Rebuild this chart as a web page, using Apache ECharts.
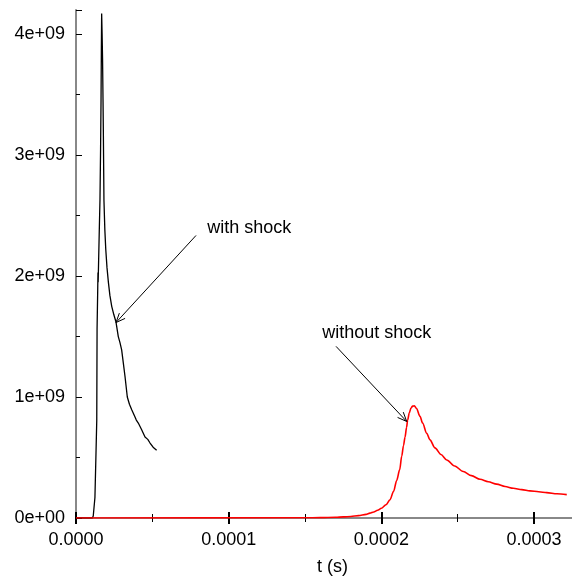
<!DOCTYPE html>
<html>
<head>
<meta charset="utf-8">
<script src="https://cdn.jsdelivr.net/npm/echarts@6/dist/echarts.min.js"></script>
<style>
html,body{margin:0;padding:0;background:#fff;}
#chart{width:572px;height:577px;}
</style>
</head>
<body>
<div id="chart"></div>
<script>
// time values (s) and values
const withShockT = [0, 1.07e-5, 1.13e-5, 1.24e-5, 1.31e-5, 1.36e-5, 1.38e-5, 1.42e-5, 1.43e-5, 1.44e-5, 1.45e-5, 1.46e-5, 1.52e-5, 1.57e-5, 1.61e-5, 1.64e-5, 1.66e-5, 1.68e-5, 1.71e-5, 1.74e-5, 1.77e-5, 1.79e-5, 1.83e-5, 1.89e-5, 1.95e-5, 2.03e-5, 2.12e-5, 2.22e-5, 2.34e-5, 2.48e-5, 2.62e-5, 2.77e-5, 2.88e-5, 2.99e-5, 3.10e-5, 3.21e-5, 3.36e-5, 3.50e-5, 3.65e-5, 3.85e-5, 3.95e-5, 4.08e-5, 4.30e-5, 4.52e-5, 4.70e-5, 4.85e-5, 5.05e-5, 5.28e-5];
const withShockV = [0, 0, 0.017e9, 0.17e9, 0.54e9, 0.81e9, 1.56e9, 1.87e9, 1.96e9, 2.03e9, 1.95e9, 2.0e9, 2.35e9, 2.63e9, 3.05e9, 3.46e9, 3.85e9, 4.17e9, 4.0e9, 3.79e9, 3.45e9, 3.21e9, 2.63e9, 2.38e9, 2.22e9, 2.07e9, 1.95e9, 1.84e9, 1.75e9, 1.68e9, 1.62e9, 1.50e9, 1.45e9, 1.39e9, 1.28e9, 1.17e9, 1.00e9, 0.94e9, 0.895e9, 0.84e9, 0.81e9, 0.785e9, 0.73e9, 0.67e9, 0.65e9, 0.62e9, 0.585e9, 0.56e9];

const withoutShockT = [0, 1.5e-4, 1.6e-4, 1.7e-4, 1.75e-4, 1.8e-4, 1.85e-4, 1.9e-4, 1.925e-4, 1.95e-4, 1.975e-4, 2.0e-4, 2.03e-4, 2.056e-4, 2.08e-4, 2.10e-4, 2.12e-4, 2.133e-4, 2.145e-4, 2.155e-4, 2.165e-4, 2.172e-4, 2.183e-4, 2.194e-4, 2.205e-4, 2.216e-4, 2.23e-4, 2.253e-4, 2.27e-4, 2.297e-4, 2.318e-4, 2.351e-4, 2.39e-4, 2.428e-4, 2.48e-4, 2.536e-4, 2.59e-4, 2.646e-4, 2.70e-4, 2.755e-4, 2.81e-4, 2.864e-4, 2.92e-4, 2.973e-4, 3.03e-4, 3.083e-4, 3.15e-4, 3.214e-4];
const withoutShockV = [0, 0.002e9, 0.003e9, 0.006e9, 0.009e9, 0.012e9, 0.02e9, 0.03e9, 0.04e9, 0.05e9, 0.064e9, 0.08e9, 0.11e9, 0.15e9, 0.22e9, 0.31e9, 0.40e9, 0.51e9, 0.60e9, 0.67e9, 0.75e9, 0.81e9, 0.87e9, 0.91e9, 0.925e9, 0.928e9, 0.905e9, 0.84e9, 0.785e9, 0.70e9, 0.646e9, 0.58e9, 0.525e9, 0.48e9, 0.43e9, 0.384e9, 0.35e9, 0.32e9, 0.30e9, 0.28e9, 0.26e9, 0.246e9, 0.235e9, 0.224e9, 0.217e9, 0.21e9, 0.20e9, 0.193e9];

const xTickStep = 0.0001;
const yTickStep = 1e9;

// annotation anchors in data space
const withShockText = {t: 8.6e-5, v: 2.40e9, label: 'with shock'};
const withShockArrow = [[7.86e-5, 2.336e9], [2.62e-5, 1.616e9]];
const withoutShockText = {t: 1.613e-4, v: 1.533e9, label: 'without shock'};
const withoutShockArrow = [[1.703e-4, 1.419e9], [2.166e-4, 0.798e9]];

function zip(a, b) { return a.map((x, i) => [x, b[i]]); }
function expFmt(v) {
  const parts = v.toExponential(0).split('e');
  const sign = parts[1][0];
  return parts[0] + 'e' + sign + parts[1].slice(1).padStart(2, '0');
}

const font = '"Liberation Sans", Arial, Helvetica, sans-serif';

const chart = echarts.init(document.getElementById('chart'), null, {renderer: 'canvas'});
chart.setOption({
  animation: false,
  backgroundColor: '#fff',
  grid: {left: 76, right: -3, top: 10, bottom: 59, containLabel: false, outerBoundsMode: 'none'},
  xAxis: [{
    type: 'value', min: 0, max: 0.0003268, interval: xTickStep,
    name: 't (s)', nameLocation: 'middle', nameGap: 40,
    nameTextStyle: {fontFamily: font, fontSize: 18, color: '#000', padding: [0, 0, 0, 14]},
    axisLine: {show: true, onZero: false, lineStyle: {color: '#888', width: 2}},
    axisTick: {show: true, inside: true, length: 6, lineStyle: {color: '#000', width: 2}},
    minorTick: {show: true, splitNumber: 2, length: 4, lineStyle: {color: '#000', width: 1}},
    axisLabel: {fontFamily: font, fontSize: 18, color: '#000', margin: 13, showMaxLabel: false,
      formatter: v => v.toFixed(4)},
    splitLine: {show: false}
  }, {
    type: 'value', position: 'top', min: 0, max: 0.0003268, interval: xTickStep,
    axisLine: {show: false},
    axisTick: {show: true, inside: true, length: 6, lineStyle: {color: '#000', width: 2}},
    minorTick: {show: true, splitNumber: 2, length: 4, lineStyle: {color: '#000', width: 1}},
    axisLabel: {show: false},
    splitLine: {show: false}
  }],
  yAxis: {
    type: 'value', min: 0, max: 4.2e9, interval: yTickStep,
    axisLine: {show: true, onZero: false, lineStyle: {color: '#888', width: 2}},
    axisTick: {show: true, inside: true, length: 6, lineStyle: {color: '#000', width: 1}},
    minorTick: {show: true, splitNumber: 2, length: 4, lineStyle: {color: '#000', width: 1}},
    axisLabel: {fontFamily: font, fontSize: 18, color: '#000', margin: 11, showMaxLabel: false,
      formatter: expFmt},
    splitLine: {show: false}
  },
  series: [{
    name: 'with shock', type: 'line', showSymbol: false, symbol: 'none',
    data: zip(withShockT, withShockV),
    lineStyle: {color: '#000', width: 1.3}, z: 2,
    markPoint: {
      silent: true, symbol: 'circle', symbolSize: 0,
      label: {show: true, position: 'right', distance: 0, fontFamily: font, fontSize: 18, color: '#000',
        formatter: p => p.name},
      data: [{name: withShockText.label, coord: [withShockText.t, withShockText.v]}]
    }
  }, {
    name: 'without shock', type: 'line', showSymbol: false, symbol: 'none',
    smooth: 0.3, smoothMonotone: 'x',
    data: zip(withoutShockT, withoutShockV),
    lineStyle: {color: '#ff0000', width: 1.6}, z: 3,
    markPoint: {
      silent: true, symbol: 'circle', symbolSize: 0,
      label: {show: true, position: 'right', distance: 0, fontFamily: font, fontSize: 18, color: '#000',
        formatter: p => p.name},
      data: [{name: withoutShockText.label, coord: [withoutShockText.t, withoutShockText.v]}]
    }
  }]
});

// open-V arrows, positioned through the chart's own scales
function arrowGraphics(pair) {
  const a = chart.convertToPixel({xAxisIndex: 0, yAxisIndex: 0}, pair[0]);
  const b = chart.convertToPixel({xAxisIndex: 0, yAxisIndex: 0}, pair[1]);
  const ang = Math.atan2(a[1] - b[1], a[0] - b[0]);
  const len = 10, spread = 0.4;
  const p1 = [b[0] + len * Math.cos(ang + spread), b[1] + len * Math.sin(ang + spread)];
  const p2 = [b[0] + len * Math.cos(ang - spread), b[1] + len * Math.sin(ang - spread)];
  return [
    {type: 'line', shape: {x1: a[0], y1: a[1], x2: b[0], y2: b[1]}, style: {stroke: '#000', lineWidth: 1}, z: 10},
    {type: 'polyline', shape: {points: [p1, b, p2]}, style: {stroke: '#000', lineWidth: 1, fill: null}, z: 10}
  ];
}
chart.setOption({graphic: arrowGraphics(withShockArrow).concat(arrowGraphics(withoutShockArrow))});
</script>
</body>
</html>
